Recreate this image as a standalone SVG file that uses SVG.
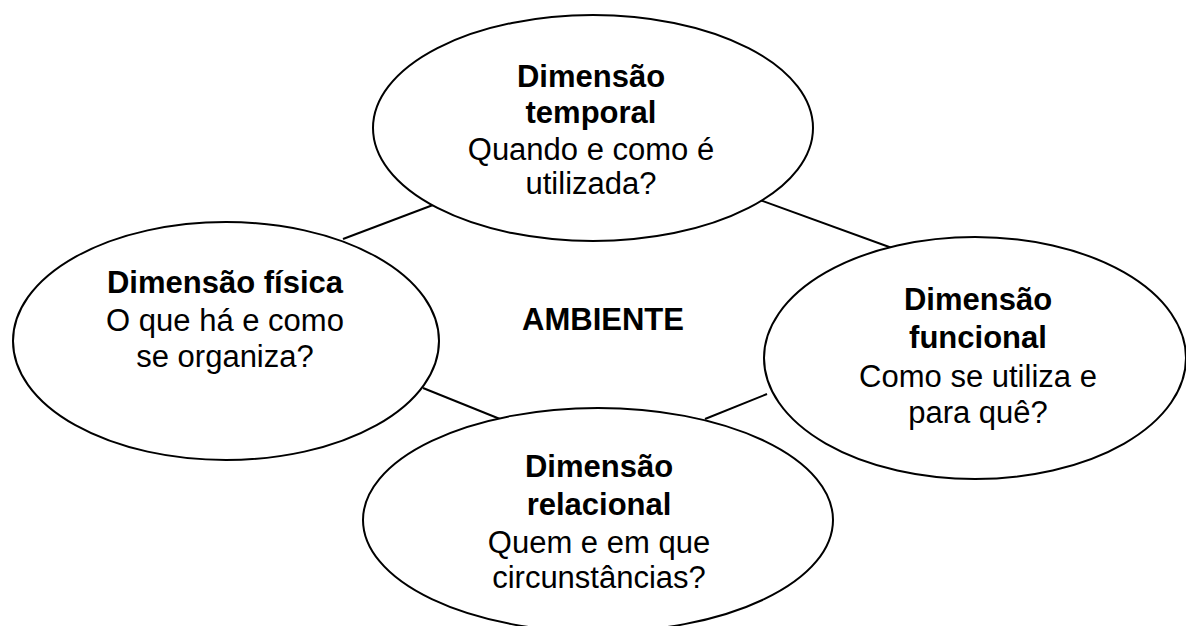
<svg xmlns="http://www.w3.org/2000/svg" width="1186" height="626" viewBox="0 0 1186 626">
<style>
.node{fill:#fff;stroke:#000;stroke-width:2}
.conn{stroke:#000;stroke-width:2;fill:none}
text{font-family:"Liberation Sans",Arial,sans-serif;font-size:31px;fill:#000;text-anchor:middle}
.b{font-weight:bold}
</style>
<rect width="1186" height="626" fill="#fff"/>
<g id="connectors">
<line class="conn" x1="343" y1="239" x2="433" y2="205"/>
<line class="conn" x1="760" y1="200" x2="892" y2="248"/>
<line class="conn" x1="423" y1="388" x2="500" y2="419"/>
<line class="conn" x1="705" y1="419" x2="767" y2="394"/>
</g>
<g id="temporal">
<ellipse class="node" cx="593" cy="128" rx="220" ry="113"/>
<text x="591" y="87" class="b">Dimensão</text>
<text x="591" y="123" class="b">temporal</text>
<text x="591" y="160">Quando e como é</text>
<text x="591" y="194">utilizada?</text>
</g>
<g id="fisica">
<ellipse class="node" cx="226" cy="341" rx="213" ry="119"/>
<text x="225" y="293" class="b">Dimensão física</text>
<text x="225" y="331">O que há e como</text>
<text x="225" y="367">se organiza?</text>
</g>
<g id="funcional">
<ellipse class="node" cx="975" cy="358" rx="211" ry="121"/>
<text x="978" y="310" class="b">Dimensão</text>
<text x="978" y="348" class="b">funcional</text>
<text x="978" y="387">Como se utiliza e</text>
<text x="978" y="423">para quê?</text>
</g>
<g id="relacional">
<ellipse class="node" cx="598" cy="520" rx="235" ry="112"/>
<text x="599" y="477" class="b">Dimensão</text>
<text x="599" y="515" class="b">relacional</text>
<text x="599" y="553">Quem e em que</text>
<text x="599" y="588">circunstâncias?</text>
</g>
<g id="ambiente">
<text x="603" y="330" class="b">AMBIENTE</text>
</g>
</svg>
